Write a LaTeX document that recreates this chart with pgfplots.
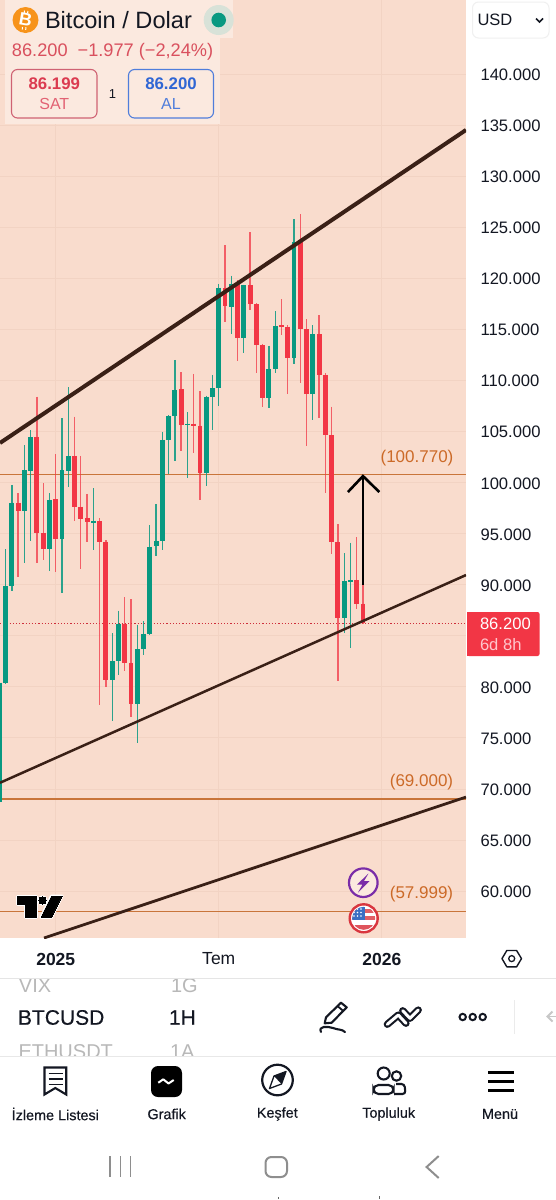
\documentclass[border=0pt]{standalone}
\usepackage{pgfplots}
\usepackage{pgfplotstable}
\usepackage{fontspec}
\pgfplotsset{compat=1.18}
\setmainfont{Liberation Sans}
\newfontfamily\medfont[FakeBold=0.35]{Liberation Sans}
\newcommand\fs[1]{\fontsize{#1}{#1}\selectfont}
\definecolor{bg}{HTML}{F9DCCD}
\definecolor{gridc}{HTML}{F2D3C3}
\definecolor{panel}{HTML}{FBE9DF}
\definecolor{upc}{HTML}{089981}
\definecolor{dnc}{HTML}{F23645}
\definecolor{trend}{HTML}{3A2016}
\definecolor{lvl}{HTML}{C9753A}
\definecolor{lvltxt}{HTML}{CC6A28}
\definecolor{ink}{HTML}{131722}
\definecolor{navg}{HTML}{8E8E8E}
\pgfplotstableread{
x open close high low
0.1 68740 80400 80400 68740
1 80400 89870 93490 80320
2 89870 98020 99780 89400
4 97240 101220 103640 92090
5 101150 104430 105140 94270
8 93520 98290 98950 91360
10 94470 101220 106290 89210
11 101150 102600 109320 99530
15 96070 96260 99440 93390
18 80660 82520 85240 76650
19 82520 86120 87450 81150
22 78280 83670 86050 74470
23 83670 85170 86440 83140
24 85170 93720 95840 85070
25 93790 94270 97900 92810
26 94270 104170 104980 93390
27 104170 106520 106610 100810
28 106520 109060 112000 102140
30 105630 105760 106880 100410
33 100960 108400 108500 99690
34 108340 109230 110530 105140
35 109230 119080 119440 107490
37 117160 119440 120250 114540
39 114180 119310 119370 112710
43 108250 111120 113400 107300
44 111120 115330 116770 110700
47 112170 123520 125780 111610
50 108640 114520 115420 106120
55 86760 90360 93070 85240
56 90300 90450 94110 83830
}\updata
\pgfplotstableread{
x open close high low
3 98020 97240 98950 90770
6 104480 95080 108400 92150
7 95080 93520 99920 92410
9 98380 94470 102790 91270
12 102600 97630 106450 96230
13 97630 96460 102600 91530
14 96530 96110 98880 94150
16 96230 94210 96500 78220
17 94210 80660 94370 80010
20 86120 82330 88760 81580
21 82330 78280 88570 77070
29 109130 105660 110790 103120
31 105760 105530 110630 102860
32 105560 100960 108960 98290
36 119080 117320 123230 115750
38 119570 114180 119830 111900
40 119310 117480 124500 116890
41 117480 113440 117550 110700
42 113440 108250 113570 107370
45 115390 115260 117940 114450
46 115260 112170 115420 108640
48 123520 115030 126270 109720
49 115030 108640 116010 103580
51 114520 110530 116380 106290
52 110530 104650 110700 98950
53 104650 94210 107430 92970
54 94150 86760 95910 80570
57 90450 88140 94640 87620
58 88140 86200 89970 86100
}\dndata
\begin{document}
\begin{tikzpicture}
\useasboundingbox (0,0) rectangle (556pt,-1200pt);
\fill[white] (0,0) rectangle (556pt,-1200pt);
\begin{axis}[
  at={(0pt,-938pt)}, anchor=south west, scale only axis,
  width=466pt, height=938pt,
  xmin=0.11, xmax=74.43, ymin=55400, ymax=147246,
  axis background/.style={fill=bg},
  axis line style={draw=none}, tick style={draw=none},
  grid=major, grid style={color=gridc,line width=.7pt},
  ytick={60000,65000,70000,75000,80000,90000,95000,100000,105000,110000,115000,120000,125000,130000,135000,140000},
  extra y ticks={85000}, extra y tick labels={},
  extra tick style={grid=major,grid style={color=gridc,line width=.7pt},tick style={draw=none}},
  scaled y ticks=false, yticklabel pos=right,
  y tick label style={anchor=west,xshift=11pt,yshift=-0.8pt,font=\fs{16.6},color=ink,
    /pgf/number format/.cd,fixed,1000 sep={.},assume math mode=true},
  xtick={9,35,61}, xticklabels={\textbf{2025},Tem,\textbf{2026}},
  x tick label style={anchor=center,yshift=-21pt,font=\fs{17.5},color=ink},
]
\addplot[lvl,line width=1.35pt] coordinates {(0.11,100770)(74.43,100770)};
\addplot[lvl,line width=1.35pt] coordinates {(0.11,69000)(74.43,69000)};
\addplot[lvl,line width=1.35pt] coordinates {(0.11,57999)(74.43,57999)};
\addplot[dnc!85!black,line width=.8pt,dash pattern=on 1.2pt off 2pt] coordinates {(0.11,86200)(74.43,86200)};
% wicks
\addplot[draw=none,no markers,error bars/.cd,y dir=both,y explicit,error mark=none,
  error bar style={draw=upc,line width=1.3pt,opacity=.85}]
  table[x=x,y=high,y error plus expr=0,y error minus expr=\thisrow{high}-\thisrow{low}] {\updata};
\addplot[draw=none,no markers,error bars/.cd,y dir=both,y explicit,error mark=none,
  error bar style={draw=dnc,line width=1.3pt,opacity=.75}]
  table[x=x,y=high,y error plus expr=0,y error minus expr=\thisrow{high}-\thisrow{low}] {\dndata};
% bodies
\addplot[draw=none,no markers,error bars/.cd,y dir=both,y explicit,error mark=none,
  error bar style={draw=upc,line width=4.9pt}]
  table[x=x,y=close,y error plus expr=0,y error minus expr=\thisrow{close}-\thisrow{open}] {\updata};
\addplot[draw=none,no markers,error bars/.cd,y dir=both,y explicit,error mark=none,
  error bar style={draw=dnc,line width=4.9pt}]
  table[x=x,y=open,y error plus expr=0,y error minus expr=\thisrow{open}-\thisrow{close}] {\dndata};
% trend lines
\addplot[trend,line width=4pt] coordinates {(0.11,103870)(74.43,134520)};
\addplot[trend,line width=2.5pt] coordinates {(0.11,70600)(74.43,90940)};
\addplot[trend,line width=2.8pt] coordinates {(7.13,55400)(74.43,69200)};
% arrow
\addplot[black,line width=2.6pt] coordinates {(58,89970)(58,100630)};
\addplot[black,line width=2.6pt] coordinates {(55.6,99070)(58,100630)(60.6,99070)};
\end{axis}
\begin{scope}[x=1pt,y=-1pt,every node/.style={inner sep=0pt,outer sep=0pt}]
% level labels
\node[anchor=center,text=lvltxt] at (417,458) {\fs{17}(100.770)};
\node[anchor=center,text=lvltxt] at (421.5,782) {\fs{17}(69.000)};
\node[anchor=center,text=lvltxt] at (421.5,894) {\fs{17}(57.999)};
% header panel
\fill[panel] (5,0) rectangle (233,38);
\fill[panel] (5,38) rectangle (220,124);
\definecolor{btc}{HTML}{F7931A}
\fill[btc] (25.5,20) circle (13);
\node[text=white,rotate=-10] at (25.5,20) {\fs{18}\textbf{B}};
\draw[white,line width=1pt] (24.5,10.5)--(24.2,13) (28,11)--(27.6,13) (22.5,27)--(22.2,29.5) (26,27.2)--(25.7,29.8);
\definecolor{dotbg}{HTML}{D8E2D8}
\fill[dotbg] (218.7,20) circle (15);
\fill[upc] (218.7,20) circle (7.3);
\node[anchor=west,text=ink] at (45,20) {\fs{23.6}Bitcoin / Dolar};
\definecolor{chg}{HTML}{D9505E}
\node[anchor=west,text=chg] at (12,52) {\fs{18.2}86.200\hspace{10pt}−1.977 (−2,24\%)};
\definecolor{salec}{HTML}{DB3B50}
\definecolor{salel}{HTML}{CF6273}
\definecolor{buyc}{HTML}{3066D4}
\draw[salel,line width=1.1pt,rounded corners=6pt] (11.5,69.5) rectangle (97,118);
\draw[buyc!85!white,line width=1.1pt,rounded corners=6pt] (128.5,69.5) rectangle (213.5,118);
\node[text=salec] at (54.3,83.5) {\fs{16.8}\textbf{86.199}};
\node[text=salec!80!white] at (54.3,104) {\fs{16}SAT};
\node[text=buyc] at (171,83.5) {\fs{16.8}\textbf{86.200}};
\node[text=buyc!85!white] at (171,104) {\fs{16}AL};
\node[text=ink] at (112.5,94) {\fs{13}1};
% USD
\draw[black!6,line width=1pt,rounded corners=6pt] (472.5,2) rectangle (549,38);
\node[anchor=west,text=ink] at (477.5,19.5) {\fs{16.5}USD};
\draw[ink,line width=1.5pt] (536,18.5)--(539.5,22)--(543,18.5);
% price tag
\fill[dnc,rounded corners=2pt] (467,612) rectangle (539.5,656);
\fill[dnc] (467,612) rectangle (472,656);
\node[anchor=west,text=white] at (480,624) {\fs{16.6}86.200};
\definecolor{tagt}{HTML}{FFC6CC}
\node[anchor=west,text=tagt] at (480,644.5) {\fs{16.6}6d 8h};
% TV logo
\foreach \st/\lw in {white/3pt,black/0pt}{
 \filldraw[\st,line width=\lw,line join=round] (17,896)--(36.5,896)--(36.5,917.3)--(25.8,917.3)--(25.8,904)--(17,904)--cycle;
 \filldraw[\st,line width=\lw] (42.5,900.5) circle (3.6);
 \filldraw[\st,line width=\lw,line join=round] (62,896)--(51.5,917.3)--(41,917.3)--(51.5,896)--cycle;
}
% event badges
\definecolor{purp}{HTML}{7A2DA8}
\draw[purp,fill=panel,line width=2.2pt] (363.3,882.7) circle (14.3);
\fill[purp] (368.5,873.5)--(357,884.5)--(362.5,884.5)--(358,892.5)--(369.5,881)--(364,881)--cycle;
\definecolor{flagr}{HTML}{D9363F}
\definecolor{flagb}{HTML}{3B6FC4}
\fill[white] (363.7,918.3) circle (13);
\begin{scope}
\clip (363.7,918.3) circle (11.5);
\fill[flagr!80!white] (352,909) rectangle (376,912.5);
\fill[flagr!80!white] (352,916) rectangle (376,919.5);
\fill[flagr!85!white] (352,925) rectangle (376,931);
\fill[flagb] (350,905) rectangle (365,919.5);
\foreach \a in {354,357.5,361}{\foreach \b in {909,912.5,916}{\fill[white] (\a,\b) circle (.9);}}
\end{scope}
\draw[flagr,line width=2.4pt] (363.7,918.3) circle (14);
% hexagon settings icon
\draw[ink,line width=1.4pt,line join=round] (502,958.6)--(506.8,950.5)--(516.6,950.5)--(521.5,958.6)--(516.6,966.8)--(506.8,966.8)--cycle;
\draw[ink,line width=1.3pt] (511.7,958.6) circle (3);
% separators
\draw[black!10,line width=1pt] (0,978.5)--(556,978.5);
\draw[black!9,line width=1pt] (0,1056)--(556,1056);
% watchlist rows
\begin{scope}
\clip (0,979) rectangle (300,1000);
\node[anchor=base west,text=black!28] at (19,992) {\fs{20}VIX};
\node[anchor=base west,text=black!28] at (171,992) {\fs{20}1G};
\end{scope}
\begin{scope}
\clip (0,1040) rectangle (300,1055.5);
\node[anchor=base west,text=black!28] at (18.5,1058.5) {\fs{20}ETHUSDT};
\node[anchor=base west,text=black!28] at (170,1058.5) {\fs{20}1A};
\end{scope}
\node[anchor=west,text=ink] at (18,1017.5) {\medfont\fs{21}BTCUSD};
\node[anchor=west,text=ink] at (169,1017.5) {\medfont\fs{21}1H};
% pencil
\draw[ink,line width=2.1pt,line join=round] (324.7,1023.3)--(326,1017.3)--(341,1002.7)--(346.7,1007.3)--(331.7,1022.7)--cycle;
\draw[ink,line width=1.8pt] (337.5,1006)--(343.3,1011);
\draw[ink,line width=2.1pt,line cap=round] (321,1032) .. controls (318,1026) and (327,1026) .. (333,1028) .. controls (338,1030) and (342,1029) .. (345,1032);
% drawing tool
\draw[ink,line width=7.2pt,line cap=round,line join=round] (387.3,1024.3)--(398.3,1015)--(406,1023.3);
\draw[white,line width=3pt,line cap=round,line join=round] (387.3,1024.3)--(398.3,1015)--(406,1023.3);
\draw[ink,line width=7.2pt,line cap=round,line join=round] (402.7,1010.7)--(410,1018.3)--(418.3,1010);
\draw[white,line width=3pt,line cap=round,line join=round] (402.7,1010.7)--(410,1018.3)--(418.3,1010);
% more dots
\foreach \a in {462.7,472.7,482.7}{\draw[ink,line width=2pt] (\a,1017) circle (3.2);}
\draw[black!8,line width=1pt] (514,1000)--(514,1034);
\draw[black!22,line width=1.8pt] (556,1016.5)--(548,1016.5);
\draw[black!22,line width=1.8pt] (552.5,1011.5)--(547.5,1016.5)--(552.5,1021.5);
% tab bar icons
\draw[ink,line width=2.1pt,line join=miter] (44.5,1067.5)--(66.2,1067.5)--(66.2,1094.5)--(55.3,1088)--(44.5,1094.5)--cycle;
\draw[ink,line width=1.8pt] (48.5,1073.5)--(62.5,1073.5) (48.5,1079)--(62.5,1079) (48.5,1084.5)--(62.5,1084.5);
\fill[black,rounded corners=7pt] (151,1066) rectangle (182,1097);
\draw[white,line width=2pt,line join=round] (158.3,1082.7)--(163.3,1079.3)--(168.5,1083.5)--(173.7,1080);
\draw[ink,line width=2.2pt] (277.5,1080) circle (15.3);
\draw[ink,line width=1.3pt,fill=white,line join=round] (286,1071.5)--(281.5,1084)--(269.5,1088.5)--(274,1076)--cycle;
\fill[ink] (286,1071.5)--(281.5,1084)--(274,1076)--cycle;
\draw[ink,line width=2.1pt] (383.7,1073.5) circle (6);
\draw[ink,line width=2.1pt] (396.5,1076) circle (4.7);
\draw[ink,line width=2.1pt,rounded corners=5pt] (373.5,1094)--(373.5,1085)--(393.5,1085)--(393.5,1094)--cycle;
\draw[ink,line width=2.1pt,rounded corners=3pt] (396,1084)--(404.5,1084)--(405.5,1094)--(394,1094);
\fill[black] (488,1070.5) rectangle (514,1073.5);
\fill[black] (488,1079.5) rectangle (514,1082.5);
\fill[black] (488,1088.5) rectangle (514,1091.5);
% tab labels
\foreach \xx/\lab in {55.3/İzleme Listesi,166.7/Grafik,277.3/Keşfet,388.7/Topluluk,500/Menü}{
  \node[text=ink] at (\xx,1114) {\medfont\fs{14.4}\lab};
}
% android nav
\draw[navg,line width=1.6pt] (110,1156)--(110,1177) (120.5,1156)--(120.5,1177) (130.5,1156)--(130.5,1177);
\draw[navg,line width=2pt,rounded corners=6pt] (265.5,1157) rectangle (287,1177);
\draw[navg,line width=2pt] (438.7,1156)--(426.6,1167)--(438.7,1178);
\fill[black!60] (277.5,1196.5) rectangle (279,1199);
\fill[black!60] (378.5,1196) rectangle (380,1199);
\end{scope}
\end{tikzpicture}
\end{document}
